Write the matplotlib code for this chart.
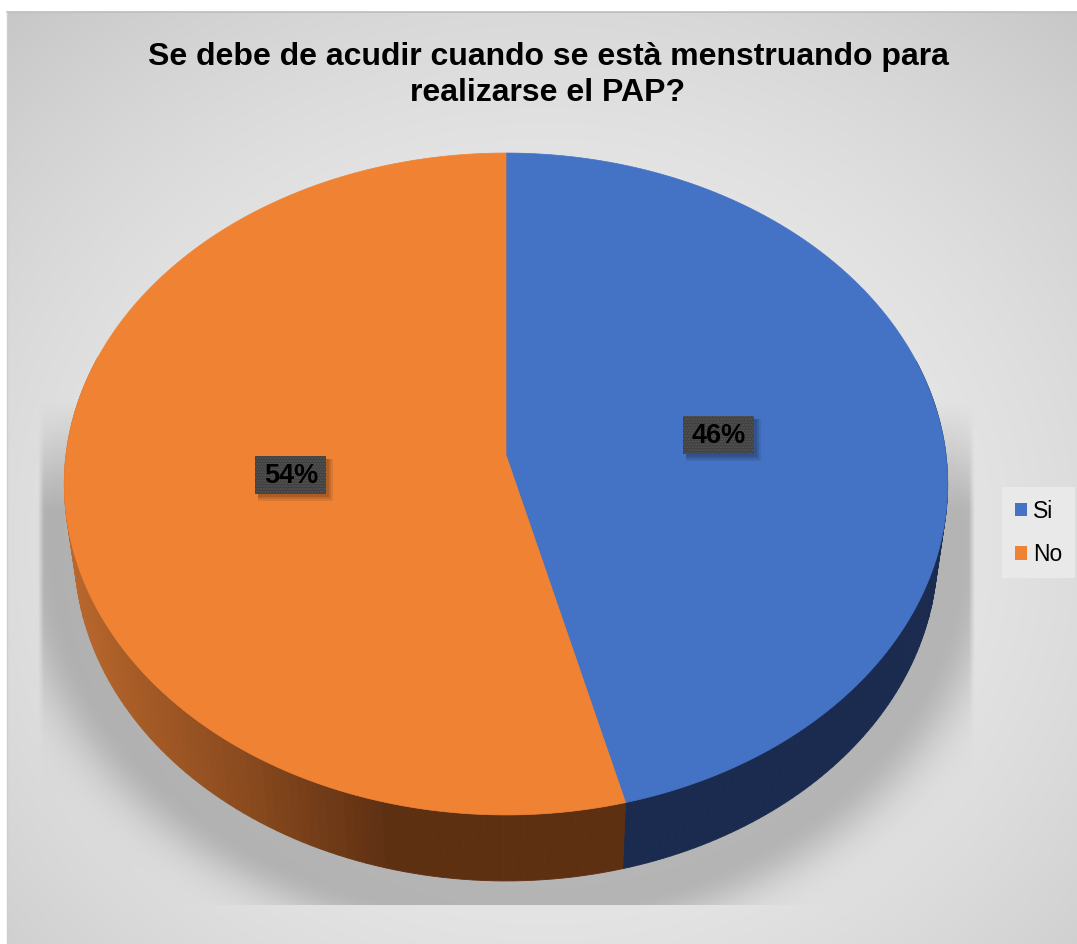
import numpy as np
import matplotlib
matplotlib.use('Agg')
import matplotlib.pyplot as plt
from matplotlib.patches import Polygon, Rectangle, Patch
from matplotlib.colors import to_rgb

# ---------------- data ----------------
title = "Se debe de acudir cuando se està menstruando para\nrealizarse el PAP?"
categories = ["Si", "No"]
values = [46, 54]
top_colors = ["#4472C4", "#F08234"]
label_texts = ["46%", "54%"]

# ---------------- figure ----------------
W, H = 1077, 944
fig = plt.figure(figsize=(W / 100, H / 100), dpi=100)
ax = fig.add_axes([0, 0, 1, 1])
ax.set_xlim(0, W)
ax.set_ylim(H, 0)
ax.axis('off')
fig.patch.set_facecolor('white')

# chart area background (radial gradient)
X0, Y0 = 7, 12
yy, xx = np.mgrid[0:H, 0:W].astype(float) + 0.5
r = np.sqrt(((xx - 545) / 760) ** 2 + ((yy - 540) / 680) ** 2)
val = 0.935 - 0.14 * np.clip(r, 0, 1.2) ** 2.0
bg = np.dstack([val, val, val])

# pie shadow
sh = np.sqrt(((xx - 506) / 452) ** 2 + ((yy - 540) / 372) ** 2)
d = np.maximum(sh - 1.0, 0) * 400
alpha = 0.21 * np.exp(-(d / 40) ** 2)
ramp_top = np.clip((yy - 400) / 110, 0, 1)
ramp_x = np.clip((xx - 38) / 6, 0, 1) * np.clip((975 - xx) / 6, 0, 1)
clip = ramp_top * ramp_x * (yy < 905)
alpha *= clip
bg = bg * (1 - alpha[..., None])
ax.imshow(bg, extent=[0, W, H, 0], zorder=0, interpolation='bilinear')
ax.add_patch(Rectangle((0, 0), X0, H, facecolor='white', edgecolor='none', zorder=1))
ax.add_patch(Rectangle((0, 0), W, Y0, facecolor='white', edgecolor='none', zorder=1))
ax.plot([X0, W], [Y0, Y0], color='#bdbdbd', lw=1.2, zorder=2)
ax.plot([X0, X0], [Y0, H], color='#cfcfcf', lw=1.0, zorder=2)

# ---------------- 3D pie projection ----------------
cx, cy = 506, 455
phi = np.arcsin(0.7464)
Dd = 7.6
F = 3344
h = 0.24


def proj(x, z, y=0.0):
    yc = y * np.cos(phi) + z * np.sin(phi)
    zc = Dd + z * np.cos(phi) - y * np.sin(phi)
    return cx + F * x / zc, cy - F * yc / zc


fracs = np.array(values, dtype=float) / np.sum(values)
bounds = np.concatenate([[0], np.cumsum(fracs)]) * 2 * np.pi  # clockwise from top


def side_color(i, th):
    if i == 0:
        return to_rgb('#1A2B4F')
    s = -np.sin(th)
    dark = np.array(to_rgb('#5E3012'))
    mid = np.array(to_rgb('#8A4A1E'))
    light = np.array(to_rgb('#BD6A2D'))
    if s <= 0.25:
        return tuple(dark)
    if s <= 0.55:
        t = (s - 0.25) / 0.30
        return tuple(dark + (mid - dark) * t)
    t = min((s - 0.55) / 0.45, 1)
    return tuple(mid + (light - mid) * t)


# side quads
quads = []
for i in range(len(values)):
    ths = np.linspace(bounds[i], bounds[i + 1], 160)
    for a, b in zip(ths[:-1], ths[1:]):
        m = 0.5 * (a + b)
        if np.cos(m) > 0.3:
            continue
        p1 = proj(np.sin(a), np.cos(a))
        p2 = proj(np.sin(b), np.cos(b))
        p3 = proj(np.sin(b), np.cos(b), -h)
        p4 = proj(np.sin(a), np.cos(a), -h)
        depth = Dd + np.cos(m) * np.cos(phi)
        quads.append((depth, [p1, p2, p3, p4], side_color(i, m)))
quads.sort(key=lambda q: -q[0])
for _, pts, col in quads:
    ax.add_patch(Polygon(pts, closed=True, facecolor=col, edgecolor=col,
                         lw=0.6, zorder=3))

# top face wedges
for i in range(len(values)):
    ths = np.linspace(bounds[i], bounds[i + 1], 300)
    pts = [proj(0, 0)] + [proj(np.sin(t), np.cos(t)) for t in ths]
    ax.add_patch(Polygon(pts, closed=True, facecolor=top_colors[i],
                         edgecolor=top_colors[i], lw=0.5, zorder=4))

# data labels
bw, bh = 71, 38
for i in range(len(values)):
    m = 0.5 * (bounds[i] + bounds[i + 1])
    lx, ly = proj(0.49 * np.sin(m), 0.49 * np.cos(m))
    for k, a in enumerate([0.08, 0.10, 0.12]):
        off = 5 - k
        grow = 2 - k
        ax.add_patch(Rectangle((lx - bw / 2 + off - grow, ly - bh / 2 + off - grow),
                               bw + 2 * grow, bh + 2 * grow,
                               facecolor='black', edgecolor='none', alpha=a, zorder=5))
    ax.add_patch(Rectangle((lx - bw / 2, ly - bh / 2), bw, bh, facecolor='#404040',
                           edgecolor='#575757', hatch='......', lw=0, zorder=6))
    ax.text(lx, ly + 1, label_texts[i], ha='center', va='center', fontsize=19.5,
            fontweight='bold', family='Liberation Sans', color='black', zorder=7)

# title
ax.text(548, 75, title, ha='center', va='center', fontsize=23, fontweight='bold',
        family='Liberation Sans', color='black', linespacing=1.28, zorder=7)

# legend
handles = [Patch(facecolor=c, edgecolor='none') for c in top_colors]
leg = ax.legend(handles, categories, loc='upper left',
                bbox_to_anchor=(1002 / W, 1 - 487 / H), bbox_transform=fig.transFigure,
                borderaxespad=0, frameon=True, fancybox=False,
                prop={'family': 'Liberation Sans', 'size': 16.5},
                handlelength=0.55, handleheight=0.55, handletextpad=0.25,
                labelspacing=0.88, borderpad=0.55)
leg.get_frame().set_facecolor('#e9e9e9')
leg.get_frame().set_edgecolor('none')
leg.get_frame().set_alpha(1)
leg.set_zorder(8)

fig.savefig('out.png', dpi=100, facecolor='white')
